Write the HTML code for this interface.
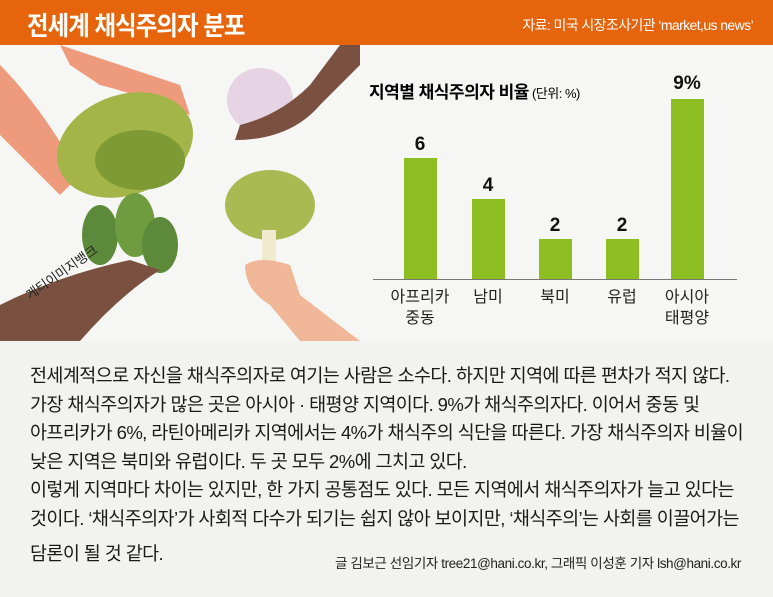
<!DOCTYPE html>
<html><head><meta charset="utf-8"><style>
body{margin:0;width:773px;height:597px;overflow:hidden;font-family:"Liberation Sans","Noto Sans CJK KR",sans-serif;background:#f2f2f0;position:relative}
.hdr{position:absolute;left:0;top:0;width:773px;height:45px;background:#e5640c;color:#fff}
.t{position:absolute;left:27px;top:6px;font-size:26px;font-weight:bold;letter-spacing:-1px;transform:scaleX(0.9);transform-origin:left}
.src{position:absolute;right:20px;top:15px;font-size:14px;letter-spacing:-0.6px}
.top{position:absolute;left:0;top:45px;width:773px;height:296px;background:#f6f6f4}
.a{position:absolute}
.bar{position:absolute;background:#8dbf22;width:33px}
.v{position:absolute;font-size:19px;font-weight:bold;width:60px;text-align:center;color:#111}
.lb{position:absolute;font-size:16px;width:80px;text-align:center;color:#222;line-height:21px}
.txt{position:absolute;left:30px;top:362px;font-size:18.5px;line-height:28.6px;color:#1a1a1a;letter-spacing:-0.6px;white-space:nowrap}
.cr{position:absolute;right:32px;top:552px;font-size:13.5px;color:#222;letter-spacing:-0.4px}
</style></head><body>
<div class="hdr"><div class="t">전세계 채식주의자 분포</div><div class="src">자료: 미국 시장조사기관 ‘market,us news’</div></div>
<div class="top"></div>
<svg class="a" style="left:0;top:45px" width="360" height="296">
<path d="M0 20 Q40 60 80 130 L60 150 Q20 110 0 90Z" fill="#ee9a7c"/>
<path d="M60 0 Q120 20 180 40 L190 70 Q140 50 100 40 L70 20Z" fill="#ee9a7c"/>
<ellipse cx="125" cy="100" rx="70" ry="50" fill="#a3b548" transform="rotate(-20 125 100)"/>
<ellipse cx="140" cy="115" rx="45" ry="30" fill="#7e9a35"/>
<ellipse cx="100" cy="190" rx="18" ry="30" fill="#5d8a3a"/>
<ellipse cx="135" cy="180" rx="20" ry="32" fill="#6e9c3e"/>
<ellipse cx="160" cy="200" rx="18" ry="28" fill="#5d8a3a"/>
<path d="M0 296 L0 260 Q60 230 130 215 L160 225 Q120 250 80 296Z" fill="#7a5140"/>
<ellipse cx="260" cy="55" rx="33" ry="32" fill="#e6d3e3"/>
<path d="M340 0 L310 40 Q280 70 240 80 L235 95 Q290 95 320 60 L360 20 L360 0Z" fill="#7a5140"/>
<ellipse cx="270" cy="160" rx="45" ry="35" fill="#a9ba52"/>
<rect x="262" y="185" width="14" height="40" fill="#f0ead0"/>
<path d="M245 220 Q260 210 290 220 L300 250 L360 296 L300 296 L270 260 Q245 245 245 220Z" fill="#f0b898"/>
<text x="30" y="255" font-size="13" transform="rotate(-35 30 255)" font-family="Liberation Sans,Noto Sans CJK KR,sans-serif" fill="#222">게티이미지뱅크</text>
</svg>
<div class="a" style="left:369px;top:78px;font-size:17px;font-weight:bold;letter-spacing:-0.5px">지역별 채식주의자 비율<span style="font-size:13px;font-weight:normal"> (단위: %)</span></div>
<div class="a" style="left:373px;top:279px;width:364px;height:1px;background:#777"></div>
<div class="bar" style="left:404px;top:158px;height:121px"></div><div class="v" style="left:390px;top:134px">6</div>
<div class="bar" style="left:472px;top:199px;height:80px"></div><div class="v" style="left:458px;top:175px">4</div>
<div class="bar" style="left:539px;top:239px;height:40px"></div><div class="v" style="left:525px;top:215px">2</div>
<div class="bar" style="left:606px;top:239px;height:40px"></div><div class="v" style="left:592px;top:215px">2</div>
<div class="bar" style="left:671px;top:99px;height:180px"></div><div class="v" style="left:657px;top:73px">9%</div>
<div class="lb" style="left:380px;top:287px">아프리카<br>중동</div>
<div class="lb" style="left:448px;top:287px">남미</div>
<div class="lb" style="left:515px;top:287px">북미</div>
<div class="lb" style="left:582px;top:287px">유럽</div>
<div class="lb" style="left:647px;top:287px">아시아<br>태평양</div>
<div class="txt">전세계적으로 자신을 채식주의자로 여기는 사람은 소수다. 하지만 지역에 따른 편차가 적지 않다.<br>가장 채식주의자가 많은 곳은 아시아 · 태평양 지역이다. 9%가 채식주의자다. 이어서 중동 및<br>아프리카가 6%, 라틴아메리카 지역에서는 4%가 채식주의 식단을 따른다. 가장 채식주의자 비율이<br>낮은 지역은 북미와 유럽이다. 두 곳 모두 2%에 그치고 있다.<br>이렇게 지역마다 차이는 있지만, 한 가지 공통점도 있다. 모든 지역에서 채식주의자가 늘고 있다는<br>것이다. ‘채식주의자’가 사회적 다수가 되기는 쉽지 않아 보이지만, ‘채식주의’는 사회를 이끌어가는<br><span style="display:inline-block;margin-top:6px">담론이 될 것 같다.</span></div>
<div class="cr">글 김보근 선임기자 tree21@hani.co.kr, 그래픽 이성훈 기자 lsh@hani.co.kr</div>
</body></html>
